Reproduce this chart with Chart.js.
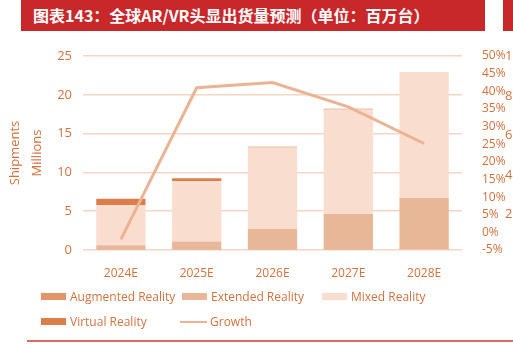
<!DOCTYPE html>
<html>
<head>
<meta charset="utf-8">
<script src="https://cdn.jsdelivr.net/npm/chart.js@4"></script>
<style>
  html,body{margin:0;padding:0;background:#fff;}
  #wrap{position:relative;width:513px;height:344px;overflow:hidden;background:#fff;}
  #c{position:absolute;left:0;top:0;}
  #titlebar{position:absolute;left:21px;top:0;width:464px;height:31px;background:#c9282b;
    color:#fff;font:bold 16px "Noto Sans CJK SC",sans-serif;line-height:31px;padding-left:12px;box-sizing:border-box;}
  #titlebar2{position:absolute;left:503px;top:0;width:20px;height:31px;background:#c9282b;}
  #bottomline{position:absolute;left:27px;top:340px;width:486px;height:2px;background:#dd6a66;}
  #legend{position:absolute;left:41px;top:288px;width:440px;font:12px "Open Sans",sans-serif;color:#d0723f;}
  .li{position:absolute;display:flex;align-items:center;white-space:nowrap;}
  .sw{width:25px;height:7px;margin-right:4px;}
  .ln{width:27px;height:2px;margin-right:3px;}
  #side{position:absolute;left:505px;top:0;font:13px "Open Sans",sans-serif;color:#d0723f;}
  #side span{position:absolute;left:0;}
</style>
</head>
<body>
<div id="wrap">
  <canvas id="c" width="513" height="344"></canvas>
  <div id="titlebar">图表143：全球AR/VR头显出货量预测（单位：百万台）</div>
  <div id="titlebar2"></div>
  <div id="legend"></div>
  <div id="side"></div>
  <div id="bottomline"></div>
</div>
<script>
// ---- data ----
const categories = ['2024E', '2025E', '2026E', '2027E', '2028E'];
const augmentedReality = [0.05, 0.05, 0.05, 0.05, 0.2];
const extendedReality  = [0.55, 1.05, 2.65, 4.6, 6.5];
const mixedReality     = [5.2, 7.8, 10.5, 13.45, 16.2];
const virtualReality   = [0.8, 0.35, 0.1, 0.1, 0.05];
const growth           = [-2.0, 41.0, 42.5, 35.6, 25.2];
const leftTicks  = [0, 5, 10, 15, 20, 25];
const rightTicks = [-5, 0, 5, 10, 15, 20, 25, 30, 35, 40, 45, 50];
const sideTicks  = ['10', '8', '6', '4', '2'];

const C = {
  ar: '#e39468', xr: '#e8b797', mr: '#f9ded0', vr: '#dc7e4b', growth: '#ebb394',
  text: '#d0723f', grid: '#f7d5c3'
};

const barStyle = {barPercentage: 0.65, categoryPercentage: 1.0, borderWidth: 0, yAxisID: 'y', stack: 's'};

const datasets = [
  Object.assign({label: 'Augmented Reality', data: augmentedReality, backgroundColor: C.ar, order: 2}, barStyle),
  Object.assign({label: 'Extended Reality', data: extendedReality, backgroundColor: C.xr, order: 2}, barStyle),
  Object.assign({label: 'Mixed Reality', data: mixedReality, backgroundColor: C.mr, order: 2}, barStyle),
  Object.assign({label: 'Virtual Reality', data: virtualReality, backgroundColor: C.vr, order: 2}, barStyle),
  {type: 'line', label: 'Growth', data: growth, borderColor: C.growth, borderWidth: 3,
   pointRadius: 0, tension: 0, yAxisID: 'y1', order: 1, fill: false}
];

Chart.defaults.font.family = '"Open Sans", sans-serif';
Chart.defaults.color = C.text;

new Chart(document.getElementById('c'), {
  type: 'bar',
  data: {labels: categories, datasets: datasets},
  options: {
    responsive: false,
    animation: false,
    layout: {padding: {left: 0, right: 0, top: 56, bottom: 0}},
    plugins: {legend: {display: false}, tooltip: {enabled: false}},
    scales: {
      x: {
        stacked: true,
        grid: {display: false},
        border: {display: false},
        ticks: {font: {size: 12}, color: C.text, padding: 8},
        afterFit: s => { s.height = 94; }
      },
      y: {
        stacked: true,
        position: 'left',
        min: 0, max: 25,
        afterBuildTicks: s => { s.ticks = leftTicks.map(v => ({value: v})); },
        grid: {color: C.grid, lineWidth: 1.5, drawTicks: false},
        border: {display: false},
        ticks: {font: {size: 13}, color: C.text, padding: 11, autoSkip: false},
        title: {display: true, text: ['Shipments', 'Millions'], font: {size: 13, lineHeight: 1.65}, color: C.text, padding: {top: 5, bottom: 0}},
        afterFit: s => { s.width = 83; }
      },
      y1: {
        position: 'right',
        min: -5, max: 50,
        afterBuildTicks: s => { s.ticks = rightTicks.map(v => ({value: v})); },
        grid: {display: false, drawOnChartArea: false},
        border: {display: false},
        ticks: {font: {size: 12}, color: C.text, padding: 12, autoSkip: false, callback: v => v + '%'},
        afterFit: s => { s.width = 51; }
      }
    }
  }
});

// ---- HTML legend built from dataset definitions ----
const legendEl = document.getElementById('legend');
const legendItems = [
  {label: 'Augmented Reality', color: C.ar, kind: 'box', x: 0, y: 0},
  {label: 'Extended Reality', color: C.xr, kind: 'box', x: 141, y: 0},
  {label: 'Mixed Reality', color: C.mr, kind: 'box', x: 281, y: 0},
  {label: 'Virtual Reality', color: C.vr, kind: 'box', x: 0, y: 25},
  {label: 'Growth', color: C.growth, kind: 'line', x: 139, y: 25}
];
legendItems.forEach(it => {
  const d = document.createElement('div');
  d.className = 'li';
  d.style.left = it.x + 'px';
  d.style.top = it.y + 'px';
  const s = document.createElement('div');
  s.className = it.kind === 'box' ? 'sw' : 'ln';
  s.style.background = it.color;
  d.appendChild(s);
  const t = document.createElement('span');
  t.textContent = it.label;
  d.appendChild(t);
  legendEl.appendChild(d);
});

// partial neighbouring axis at the right edge
const side = document.getElementById('side');
sideTicks.forEach((t, i) => {
  const sp = document.createElement('span');
  sp.textContent = t;
  sp.style.top = (46 + i * 39.5) + 'px';
  side.appendChild(sp);
});
</script>
</body>
</html>
